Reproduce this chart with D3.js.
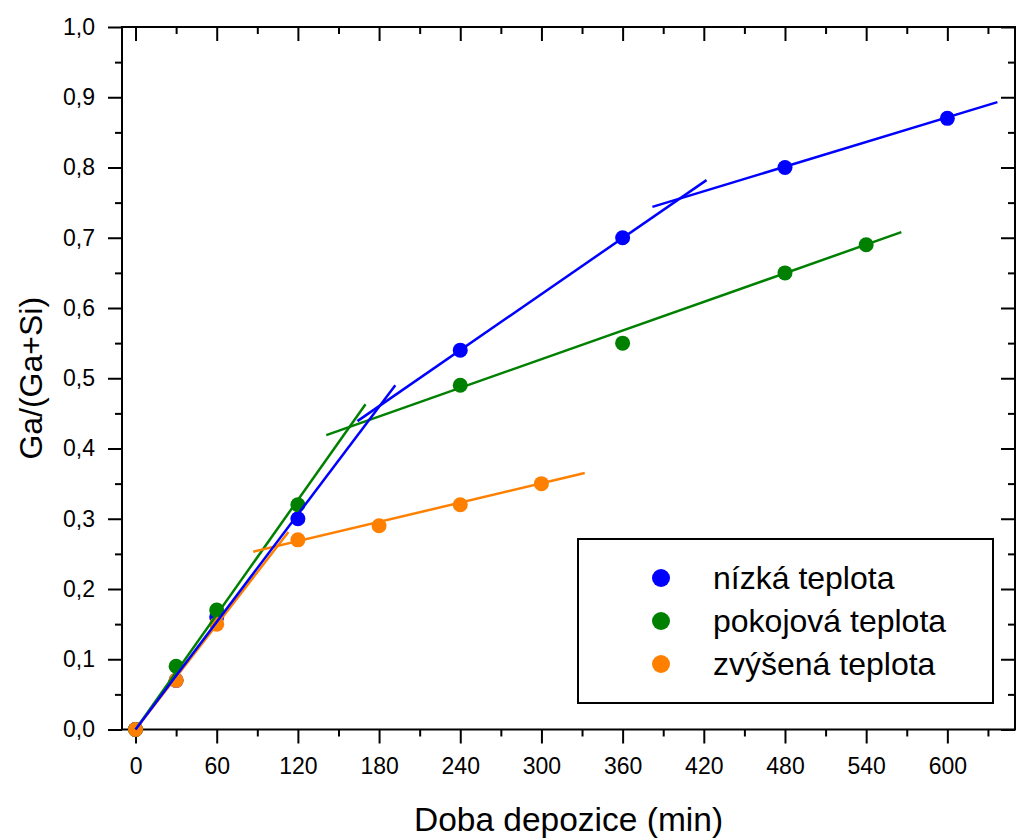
<!DOCTYPE html>
<html>
<head>
<meta charset="utf-8">
<script src="https://cdn.jsdelivr.net/npm/d3@7"></script>
<style>
  body { margin: 0; background: #fff; }
  svg { display: block; font-family: "Liberation Sans", Arial, sans-serif; }
  .frame { fill: none; stroke: #000; stroke-width: 2; }
  .tick line { stroke: #000; stroke-width: 2; }
  .fit { fill: none; stroke-width: 2.5; }
</style>
</head>
<body>
<div id="chart"></div>
<script>
// deposition time (min) and Ga/(Ga+Si) fraction
var seriesNames = ['nízká teplota', 'pokojová teplota', 'zvýšená teplota'];
var seriesColors = ['#0000ff', '#008000', '#ff8000'];

var lowTime = [0, 30, 60, 120, 240, 360, 480, 600];
var lowVal = [0, 0.07, 0.16, 0.30, 0.54, 0.70, 0.80, 0.87];

var roomTime = [0, 30, 60, 120, 240, 360, 480, 540];
var roomVal = [0, 0.09, 0.17, 0.32, 0.49, 0.55, 0.65, 0.69];

var highTime = [0, 30, 60, 120, 180, 240, 300];
var highVal = [0, 0.07, 0.15, 0.27, 0.29, 0.32, 0.35];

// linear fit segments: [t0, v0, t1, v1]
var lowFits = [[0, 0, 192, 0.490], [164, 0.439, 422, 0.782], [382, 0.744, 637, 0.893]];
var roomFits = [[0, 0, 170, 0.463], [141, 0.419, 566, 0.708]];
var highFits = [[0, 0, 113, 0.281], [87, 0.253, 332, 0.365]];

var xMajor = d3.range(0, 601, 60);
var xMinor = d3.range(30, 631, 60);
var yMajor = d3.range(0, 1.01, 0.1);
var yMinor = d3.range(0.05, 1, 0.1);

var chart = (function () {
  var width = 1033,
      height = 839,
      left = 122,
      right = 1015,
      top = 27,
      bottom = 729.5
  ;
  return {width: width, height: height, left: left, right: right, top: top, bottom: bottom};
})();

var x = d3.scaleLinear().domain([-10, 650]).range([chart.left, chart.right]);
var y = d3.scaleLinear().domain([0, 1]).range([chart.bottom, chart.top]);

var svg = d3.select('#chart')
  .append('svg')
    .attr('width', chart.width)
    .attr('height', chart.height);

function comma(d) { return d3.format('.1f')(d).replace('.', ','); }

function drawAxis(axis, transform, labelled) {
  var g = svg.append('g')
      .attr('transform', transform)
      .style('font-size', '23px')
      .call(axis);
  g.select('.domain').remove();
  g.selectAll('text').attr('fill', '#000');
  if (!labelled) g.selectAll('text').remove();
  return g;
}

// bottom (outward) and top (inward)
drawAxis(d3.axisBottom(x).tickValues(xMajor).tickSize(14).tickPadding(14.5), 'translate(0,' + chart.bottom + ')', true);
drawAxis(d3.axisBottom(x).tickValues(xMinor).tickSize(7), 'translate(0,' + chart.bottom + ')', false);
drawAxis(d3.axisBottom(x).tickValues(xMajor).tickSize(14), 'translate(0,' + chart.top + ')', false);
drawAxis(d3.axisBottom(x).tickValues(xMinor).tickSize(7), 'translate(0,' + chart.top + ')', false);

// left (outward) and right (inward)
drawAxis(d3.axisLeft(y).tickValues(yMajor).tickSize(14).tickPadding(13).tickFormat(comma), 'translate(' + chart.left + ',0)', true);
drawAxis(d3.axisLeft(y).tickValues(yMinor).tickSize(7), 'translate(' + chart.left + ',0)', false);
drawAxis(d3.axisLeft(y).tickValues(yMajor).tickSize(14), 'translate(' + chart.right + ',0)', false);
drawAxis(d3.axisLeft(y).tickValues(yMinor).tickSize(7), 'translate(' + chart.right + ',0)', false);

svg.append('rect')
    .classed('frame', true)
    .attr('x', chart.left)
    .attr('y', chart.top)
    .attr('width', chart.right - chart.left)
    .attr('height', chart.bottom - chart.top);

var series = [
  {times: lowTime, vals: lowVal, fits: lowFits},
  {times: roomTime, vals: roomVal, fits: roomFits},
  {times: highTime, vals: highVal, fits: highFits}
];

series.forEach(function (s, i) {
  svg.append('g').selectAll('circle')
    .data(s.times)
    .enter().append('circle')
      .attr('cx', function (t) { return x(t); })
      .attr('cy', function (t, j) { return y(s.vals[j]); })
      .attr('r', 7.5)
      .style('fill', seriesColors[i]);
});

[1, 2, 0].forEach(function (i) {
  svg.append('g').selectAll('line')
    .data(series[i].fits)
    .enter().append('line')
      .classed('fit', true)
      .attr('x1', function (f) { return x(f[0]); })
      .attr('y1', function (f) { return y(f[1]); })
      .attr('x2', function (f) { return x(f[2]); })
      .attr('y2', function (f) { return y(f[3]); })
      .style('stroke', seriesColors[i]);
});

// legend
var legend = svg.append('g');
legend.append('rect')
    .classed('frame', true)
    .attr('x', 578)
    .attr('y', 539)
    .attr('width', 415)
    .attr('height', 164);

var item = legend.selectAll('g.item')
  .data(seriesNames)
  .enter().append('g')
    .classed('item', true)
    .attr('transform', function (d, i) { return 'translate(661,' + (578 + i * 43) + ')'; });
item.append('circle')
    .attr('r', 9)
    .style('fill', function (d, i) { return seriesColors[i]; });
item.append('text')
    .attr('x', 52)
    .attr('dy', '0.35em')
    .style('font-size', '32px')
    .text(function (d) { return d; });

// axis titles
svg.append('text')
    .attr('x', (chart.left + chart.right) / 2)
    .attr('y', 831)
    .attr('text-anchor', 'middle')
    .style('font-size', '33.5px')
    .text('Doba depozice (min)');

svg.append('text')
    .attr('transform', 'translate(42,' + ((chart.top + chart.bottom) / 2) + ') rotate(-90)')
    .attr('text-anchor', 'middle')
    .style('font-size', '32px')
    .text('Ga/(Ga+Si)');
</script>
</body>
</html>
